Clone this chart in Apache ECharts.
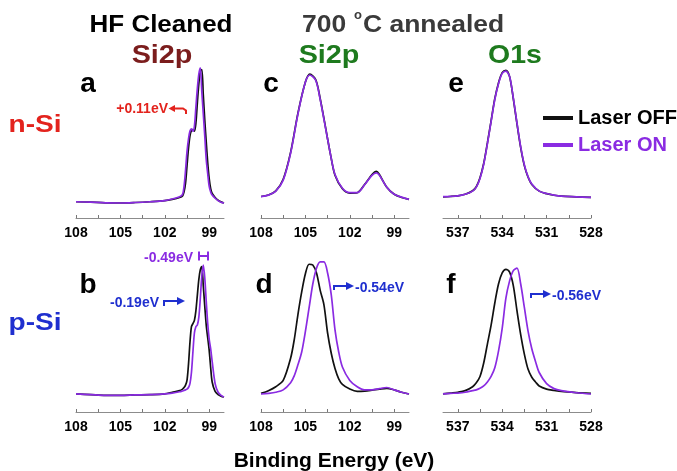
<!DOCTYPE html>
<html>
<head>
<meta charset="utf-8">
<script src="https://cdn.jsdelivr.net/npm/echarts@6/dist/echarts.min.js"></script>
<style>
  html, body { margin: 0; padding: 0; background: #fff; }
  #chart { width: 677px; height: 471px; }
</style>
</head>
<body>
<div id="chart"></div>
<script>
// ---- Spectra (binding energy in eV, intensity in arbitrary units 0-100) ----

// Si 2p, HF cleaned (panels a and b)
const energyHF = [108, 107, 106, 105, 104, 103, 102, 101.5, 101, 100.8, 100.7, 100.6, 100.5, 100.4, 100.3, 100.2, 100.1, 100.0,
  99.9, 99.8, 99.7, 99.6, 99.5, 99.4, 99.3, 99.2, 99.1, 99.0, 98.9, 98.8, 98.6, 98.4, 98.2, 98.0];
const offA = [10.3, 10.0, 9.6, 9.5, 9.8, 10.3, 11, 11.8, 13, 14, 16.5, 22, 33, 44, 52, 55.5, 56, 55,
  60, 73, 85, 93, 94, 78, 62, 48, 35, 25, 18.5, 15.5, 13, 11.2, 10.2, 9.5];
const onA = [10.3, 10.0, 9.6, 9.5, 9.8, 10.3, 11, 12, 13.5, 15, 20, 30, 42, 50, 55, 56.5, 55, 58,
  70, 82, 91, 95, 80, 66, 52, 37, 28, 20, 16.5, 14.5, 12.5, 11, 10, 9.5];
const offB = [11.5, 11, 10.5, 10.5, 10.8, 11, 11.5, 12.5, 13.5, 14.5, 15.5, 17, 20, 30, 44, 54, 56, 58,
  64, 74, 84, 90, 92, 80, 67, 55, 47, 39, 28, 19, 13, 11, 10, 9.5];
const onB = [11.5, 11, 10.5, 10.5, 10.8, 11, 11.5, 12, 12.8, 13.3, 13.6, 14, 14.5, 15.5, 18, 25, 38, 50,
  54, 55, 60, 72, 86, 93, 85, 70, 56, 46, 40, 32, 18, 12.5, 10.5, 9.5];

// Si 2p, 700 °C annealed (panels c and d)
const energyC = [108, 107.5, 107, 106.5, 106, 105.5, 105, 104.7, 104.3, 104, 103.7, 103.5, 103.3, 103,
  102.5, 102, 101.5, 101, 100.5, 100.2, 100, 99.5, 99, 98.5, 98];
const offC = [13.6, 14.6, 17.2, 24.5, 41.5, 66.5, 86, 91, 87.5, 75.5, 60.5, 50, 40, 27,
  18.5, 15.8, 16, 21.2, 27.5, 29.5, 27.5, 19.5, 15, 13, 11.8];
const onC = [13.5, 14.5, 17, 24, 41, 66, 86, 90.5, 87, 75, 60, 50, 40, 27.5,
  18.8, 16, 16, 21, 27, 28.5, 27, 19.5, 15, 13.2, 11.8];

const energyD = [108, 107.5, 107, 106.5, 106, 105.75, 105.5, 105.25, 105, 104.75, 104.5, 104.25, 104, 103.75,
  103.5, 103.25, 103, 102.75, 102.5, 102, 101.5, 101, 100.5, 100, 99.5, 99, 98.5, 98];
const offD = [11.8, 13.5, 16, 20, 34, 46, 62, 76, 87.5, 93.5, 93, 88, 77, 68,
  50, 37, 27.5, 21, 17.5, 14.5, 13, 13.2, 13.8, 14.5, 15, 14, 12.5, 11.4];
const onD = [11.4, 11.8, 12.5, 14, 18.5, 23, 30, 38, 51, 66, 81, 91, 95, 95,
  88, 74, 52, 38, 28.5, 20, 16, 14, 14, 14.8, 15.5, 14, 12.5, 11.4];

// O 1s, 700 °C annealed (panels e and f)
const energyE = [538, 537.5, 537, 536.5, 536, 535.75, 535.5, 535.25, 535, 534.75, 534.5, 534.25, 534, 533.75,
  533.5, 533.25, 533, 532.75, 532.5, 532.25, 532, 531.5, 531, 530.5, 530, 529, 528];
const offE = [13.4, 13.6, 14, 15, 17.2, 19.8, 25.5, 34.5, 47.5, 61.5, 75.5, 85.5, 92, 93.5,
  89.5, 75.5, 59.5, 44.5, 33, 25.8, 21.2, 17, 15.4, 14.4, 13.8, 13.4, 13];
const onE = [13.5, 13.7, 14, 15, 17, 19.5, 25, 34, 47, 61, 75, 85, 91.5, 93,
  89.5, 76, 60, 45, 33.5, 26, 21.5, 17, 15.5, 14.5, 13.8, 13.4, 13];

const energyF = [538, 537.5, 537, 536.5, 536, 535.75, 535.5, 535.25, 535, 534.75, 534.5, 534.25, 534, 533.75,
  533.5, 533.25, 533, 532.75, 532.5, 532.25, 532, 531.75, 531.5, 531, 530.5, 530, 529, 528];
const offF = [11.5, 12, 12.5, 13.5, 16, 18.5, 22.5, 31, 43, 55, 69, 81, 88, 90.3,
  88.5, 80, 64, 49, 36.5, 27, 22, 19, 16.5, 14.5, 13.7, 13, 12.3, 11.8];
const onF = [11.5, 11.8, 12, 12.5, 13.5, 14, 15, 16.5, 19, 22.5, 28, 38.5, 53, 72,
  83, 89.5, 91, 81, 66, 51, 40, 32, 25, 18, 14.8, 13.5, 12.2, 11.4];

// ---- Axis ticks and labels ----
const siLabels = [108, 105, 102, 99];
const siTicks = [108, 106.5, 105, 103.5, 102, 100.5, 99];
const oLabels = [537, 534, 531, 528];
const oTicks = [537, 535.5, 534, 532.5, 531, 529.5, 528];

const seriesNames = ['Laser OFF', 'Laser ON'];
const OFF_COLOR = '#111111';
const ON_COLOR = '#8a2be2';

const FONT = '"Liberation Sans", Arial, Helvetica, sans-serif';

// panel layout: a, b | c, d | e, f
const panels = [
  { left: 76,  top: 60,  energy: energyHF, off: offA, on: onA, range: [98, 108],  labels: siLabels, ticks: siTicks },
  { left: 76,  top: 254, energy: energyHF, off: offB, on: onB, range: [98, 108],  labels: siLabels, ticks: siTicks },
  { left: 261, top: 60,  energy: energyC,  off: offC, on: onC, range: [98, 108],  labels: siLabels, ticks: siTicks },
  { left: 261, top: 254, energy: energyD,  off: offD, on: onD, range: [98, 108],  labels: siLabels, ticks: siTicks },
  { left: 443, top: 60,  energy: energyE,  off: offE, on: onE, range: [528, 538], labels: oLabels,  ticks: oTicks },
  { left: 443, top: 254, energy: energyF,  off: offF, on: onF, range: [528, 538], labels: oLabels,  ticks: oTicks }
];

const grids = [], xAxes = [], yAxes = [], series = [];
panels.forEach((p, i) => {
  grids.push({ left: p.left, top: p.top, width: 148, height: 158 });
  xAxes.push({
    type: 'value', gridIndex: i, min: p.range[0], max: p.range[1], inverse: true,
    axisLine: { show: true, onZero: false, lineStyle: { color: '#8c8c8c', width: 1 } },
    axisTick: { show: true, inside: true, length: 3, customValues: p.ticks, lineStyle: { color: '#777' } },
    axisLabel: {
      show: true, customValues: p.labels, margin: 8, color: '#000',
      fontWeight: 'bold', fontSize: 14, fontFamily: FONT
    },
    splitLine: { show: false }
  });
  yAxes.push({ type: 'value', gridIndex: i, min: 0, max: 100, show: false });
  [[seriesNames[0], p.off, OFF_COLOR], [seriesNames[1], p.on, ON_COLOR]].forEach(([name, vals, color]) => {
    series.push({
      type: 'line', name, xAxisIndex: i, yAxisIndex: i,
      data: p.energy.map((e, k) => [e, vals[k]]),
      showSymbol: false, symbol: 'none', smooth: 0.3,
      lineStyle: { color, width: 1.7 }, itemStyle: { color },
      silent: true
    });
  });
});

function txt(text, x, y, size, color, opt) {
  opt = opt || {};
  const align = opt.align || 'center';
  return {
    type: 'text', x, y, scaleX: opt.sx || 1, silent: true,
    style: {
      text, fill: color, fontSize: size, fontWeight: 'bold', fontFamily: opt.family || FONT,
      textAlign: align, align: align, textVerticalAlign: 'middle', verticalAlign: 'middle'
    }
  };
}
function line(points, color) {
  return { type: 'polyline', silent: true, shape: { points }, style: { stroke: color, lineWidth: 2, fill: null } };
}
function head(points, color) {
  return { type: 'polygon', silent: true, shape: { points }, style: { fill: color } };
}

const RED = '#e3231d', BLUE = '#1f2fcf', MAROON = '#7b1d1d', GREEN = '#1e7a1e';

const graphics = [
  // column headings
  txt('HF Cleaned', 161, 26, 23, '#000', { sx: 1.13 }),
  txt('700', 302, 26, 23, '#3a3a3a', { align: 'left', sx: 1.15 }),
  txt('o', 358, 15, 13, '#3a3a3a'),
  txt('C annealed', 363, 26, 23, '#3a3a3a', { align: 'left', sx: 1.15 }),
  txt('Si2p', 162, 56, 25, MAROON, { sx: 1.15 }),
  txt('Si2p', 329, 56, 25, GREEN, { sx: 1.15 }),
  txt('O1s', 515, 56, 25, GREEN, { sx: 1.14 }),
  // row headings
  txt('n-Si', 35, 125, 24, RED, { sx: 1.17 }),
  txt('p-Si', 35, 323, 24, BLUE, { sx: 1.17 }),
  // panel letters
  txt('a', 88, 84, 28, '#000'), txt('b', 88, 285, 28, '#000'),
  txt('c', 271, 84, 28, '#000'), txt('d', 264, 285, 28, '#000'),
  txt('e', 456, 84, 28, '#000'), txt('f', 451, 285, 28, '#000'),
  // shared axis title
  txt('Binding Energy (eV)', 334, 461, 21, '#000'),

  // a: +0.11 eV
  txt('+0.11eV', 168, 109, 14, RED, { align: 'right' }),
  line([[174, 108.5], [183, 108.5], [186, 110.5], [186, 114]], RED),
  head([[168.5, 108.5], [175, 105], [175, 112]], RED),

  // b: -0.49 eV
  txt('-0.49eV', 193, 258, 14, ON_COLOR, { align: 'right' }),
  line([[199, 256], [208, 256]], ON_COLOR),
  line([[199, 251.5], [199, 260.5]], ON_COLOR),
  line([[208, 251.5], [208, 260.5]], ON_COLOR),

  // b: -0.19 eV
  txt('-0.19eV', 159, 303, 14, BLUE, { align: 'right' }),
  line([[164, 306], [164, 301], [178, 301]], BLUE),
  head([[185, 301], [177, 297], [177, 305]], BLUE),

  // d: -0.54 eV
  line([[334, 290], [334, 286], [346, 286]], BLUE),
  head([[354, 286], [346, 282], [346, 290]], BLUE),
  txt('-0.54eV', 355, 288, 14, BLUE, { align: 'left' }),

  // f: -0.56 eV
  line([[531, 298], [531, 294], [543, 294]], BLUE),
  head([[551, 294], [543, 290], [543, 298]], BLUE),
  txt('-0.56eV', 552, 296, 14, BLUE, { align: 'left' })
];

const chart = echarts.init(document.getElementById('chart'));
chart.setOption({
  animation: false,
  backgroundColor: '#fff',
  grid: grids,
  xAxis: xAxes,
  yAxis: yAxes,
  legend: {
    orient: 'vertical', left: 538, top: 103,
    icon: 'rect', itemWidth: 30, itemHeight: 4, itemGap: 7,
    selectedMode: false,
    textStyle: { fontSize: 20, fontWeight: 'bold', fontFamily: FONT },
    data: [
      { name: seriesNames[0], textStyle: { color: '#000' } },
      { name: seriesNames[1], textStyle: { color: ON_COLOR } }
    ]
  },
  series: series,
  graphic: { elements: graphics }
});
</script>
</body>
</html>
